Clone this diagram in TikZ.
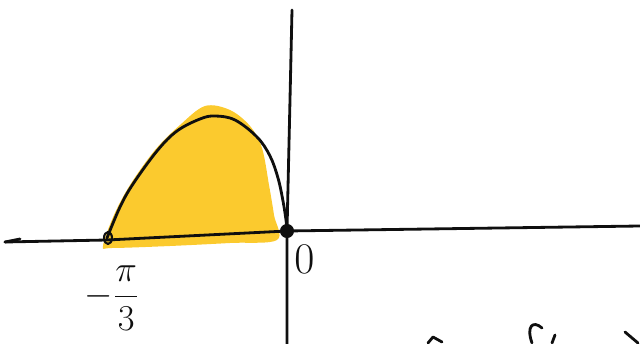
\documentclass[tikz,border=0pt]{standalone}
\usepackage{tikz}
\usetikzlibrary{positioning, calc}
\usepackage{xcolor}
\definecolor{areacolor}{RGB}{251, 202, 46}
\definecolor{inkcolor}{RGB}{15, 15, 15}

\tikzset{
  ink/.style={draw=inkcolor, line width=1.6pt, line cap=round, line join=round},
  axislabel/.style={inner sep=0pt, text=inkcolor},
}

\begin{document}
\begin{tikzpicture}[x=0.02cm, y=-0.02cm]
        \useasboundingbox (0,0) rectangle (640,344);
        % shaded area
        \fill[areacolor] plot[smooth cycle, tension=0.55] coordinates
          {(103,246) (114,215) (130,185) (155,150) (180,125) (205,106) (230,110)
           (250,126) (262,148) (269,185) (274,215) (277,240) (230,243)
           (170,246) (112,248)};
        % axes
        \coordinate (o) at (287,231);
        \coordinate (xl) at (5,242);
        \coordinate (xr) at (640,226);
        \coordinate (yt) at (292,10);
        \coordinate (yb) at (287,344);
        \draw[ink] (xl) -- (107,240) -- (o) -- (xr);
        \draw[ink] (xl) -- (20,239);
        \draw[ink] (yt) .. controls (290,100) .. (o) -- (yb);
        \node[circle, fill=inkcolor, inner sep=0pt, minimum size=8pt] (dot) at (o) {};
        % curve
        \coordinate (a) at (107,238);
        \draw[ink] plot[smooth, tension=0.6] coordinates
          {(a) (120,207) (133,184) (157,151) (177,131) (200,119) (215,116)
           (235,120) (257,137) (270,156) (278,178) (283,201) (286,220) (o)};
        \draw[ink, line width=1.2pt] (108,238) ellipse (4 and 6);
        % labels
        \node[axislabel, font=\fontsize{22}{24}\selectfont] (lbla) at (112,298) {$\displaystyle -\frac{\pi}{3}$};
        \node[axislabel, font=\fontsize{24}{26}\selectfont, below right=5pt and 1pt of dot] (lblo) {$0$};
        % cut-off writing at the bottom
        \draw[ink] (428,343) -- (433,337) -- (442,342);
        \draw[ink] (542,328) .. controls (533,320) and (526,326) .. (532,343);
        \draw[ink] (555,335) -- (552,343);
        \draw[ink] (625,332) -- (638,343);
      \end{tikzpicture}
\end{document}
